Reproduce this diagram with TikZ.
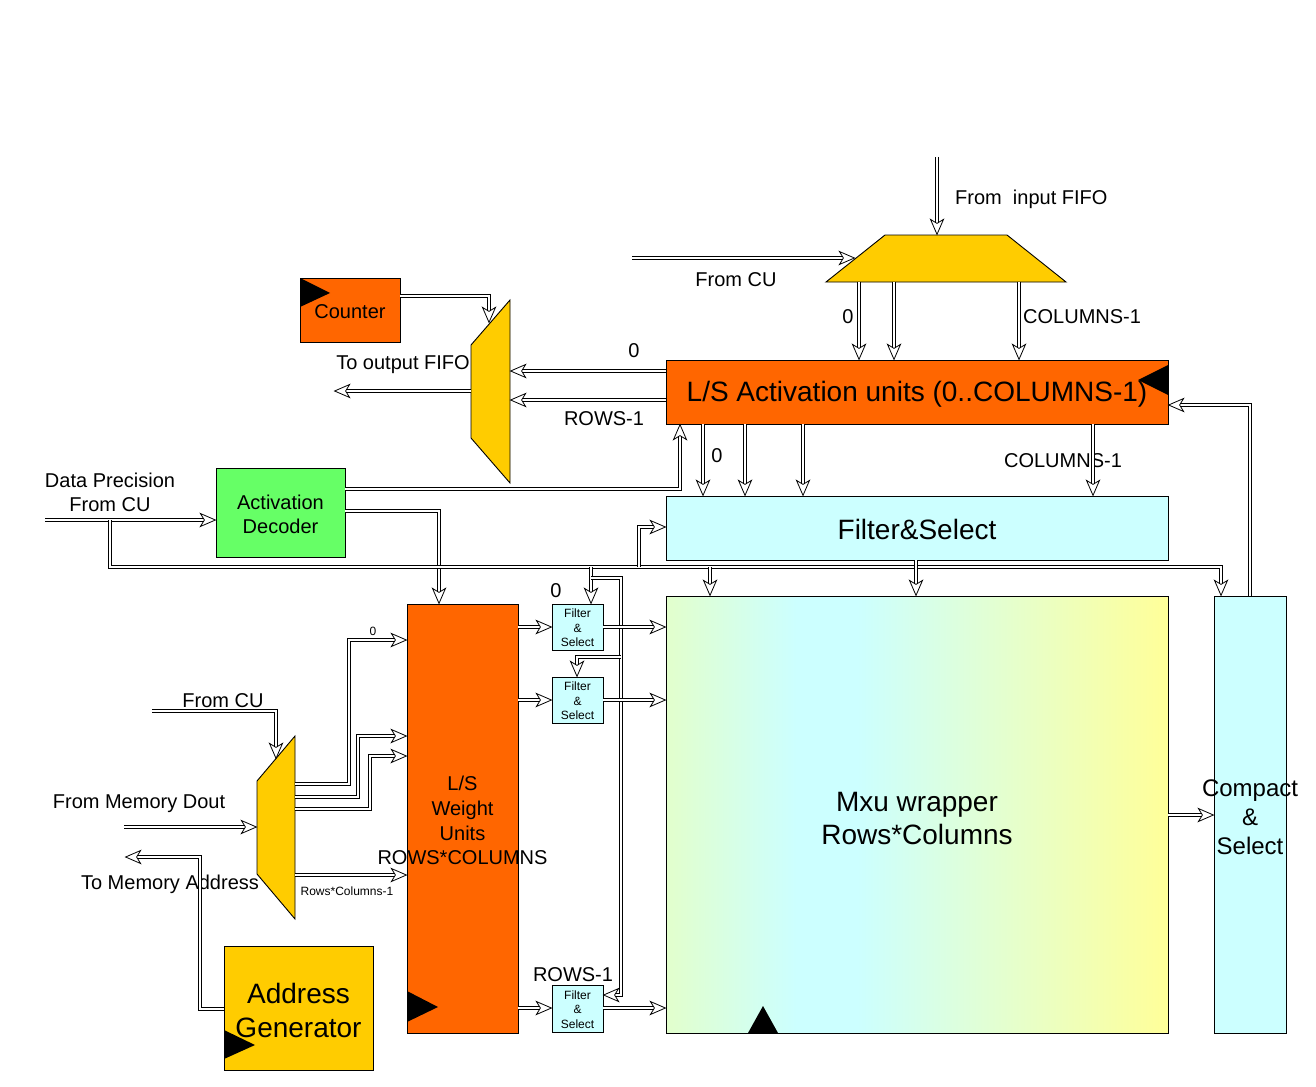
\documentclass[tikz,border=0pt]{standalone}
\usepackage{fontspec}
\setmainfont{Liberation Sans}
\usetikzlibrary{arrows.meta,decorations.markings}

\definecolor{orng}{HTML}{FF6600}
\definecolor{yel}{HTML}{FFCC00}
\definecolor{grn}{HTML}{66FF66}
\definecolor{cyn}{HTML}{CCFFFF}
\definecolor{mxuL}{HTML}{E2FFCC}
\definecolor{mxuR}{HTML}{FFFF99}
\pgfdeclarehorizontalshading{mxushade}{100bp}{color(0bp)=(mxuL); color(25bp)=(mxuL); color(38bp)=(cyn); color(44bp)=(cyn); color(75bp)=(mxuR); color(100bp)=(mxuR)}

\newcommand\myarrowhead{\filldraw[fill=white, draw=black, line width=0.8pt, line join=miter] (-0.6pt,0pt) -- (-15.6pt,6.5pt) -- (-11.6pt,0pt) -- (-15.6pt,-6.5pt) -- cycle;}
\newcommand\tup[1]{\rule{0pt}{#1}}

\tikzset{
  box/.style={draw=black, line width=0.9pt, inner sep=0pt, outer sep=0pt, anchor=north west, align=center},
  warr/.style={preaction={draw, double=white, double distance=2.2pt, line width=0.8pt, shorten >=9pt},
               postaction={decorate, decoration={markings, mark=at position 1 with {\myarrowhead}}}},
  lbl/.style={font=\fontsize{20}{24}\selectfont, inner sep=0pt, align=center},
  slbl/.style={lbl, text height=14.4pt, text depth=0pt},
  big/.style={font=\fontsize{28}{33}\selectfont},
  tiny/.style={font=\fontsize{12}{14.5}\selectfont, inner sep=0pt, align=center},
  clk/.style={fill=black},
  muxshape/.style={fill=yel, draw=black, line width=0.9pt},
}

\begin{document}
\begin{tikzpicture}[x=1pt,y=-1pt]
\fill[white] (0,0) rectangle (1316,1086);
\useasboundingbox (0,0) rectangle (1316,1086);

% ---------- boxes
\node[box, fill=orng, minimum width=100pt, minimum height=64pt, lbl] (cnt) at (300,278) {\tup{17.6pt}Counter};
\node[box, fill=orng, minimum width=502pt, minimum height=64pt, big] (act) at (666,360) {\tup{25.4pt}L/S Activation units (0..COLUMNS-1)};
\node[box, fill=cyn, minimum width=502pt, minimum height=64pt, big] (fs) at (666,496) {\tup{23.4pt}Filter\&Select};
\node[box, shading=mxushade, minimum width=502pt, minimum height=437pt, big] (mxu) at (666,596) {\tup{26.4pt}Mxu wrapper\\Rows*Columns};
\node[box, fill=cyn, minimum width=72pt, minimum height=437pt, font=\fontsize{24}{29}\selectfont] (cs) at (1214,596) {\tup{21.5pt}\makebox[0pt]{Compact}\\\&\\Select};
\node[box, fill=grn, minimum width=129pt, minimum height=89pt, lbl] (dec) at (216,468) {\tup{17.6pt}Activation\\Decoder};
\node[box, fill=orng, minimum width=111pt, minimum height=429pt, lbl, font=\fontsize{20}{24.7}\selectfont] (lsw) at (407,604) {\tup{18.6pt}L/S\\Weight\\Units\\\makebox[0pt]{ROWS*COLUMNS}};
\node[box, fill=cyn, minimum width=51pt, minimum height=46pt, tiny] (f0) at (552,604) {\tup{10.8pt}Filter\\\&\\Select};
\node[box, fill=cyn, minimum width=51pt, minimum height=46pt, tiny] (f1) at (552,677) {\tup{10.8pt}Filter\\\&\\Select};
\node[box, fill=cyn, minimum width=51pt, minimum height=47pt, tiny] (f2) at (552,985) {\tup{10.8pt}Filter\\\&\\Select};
\node[box, fill=yel, minimum width=149pt, minimum height=124pt, big, font=\fontsize{28}{34}\selectfont] (ag) at (224,946) {\tup{24.4pt}Address\\Generator};

% ---------- multiplexers
\coordinate (m0a) at (885,235); \coordinate (m0b) at (1007,235); \coordinate (m0c) at (1066,282); \coordinate (m0d) at (826,282);
\coordinate (m1a) at (510,300); \coordinate (m1b) at (510,483); \coordinate (m1c) at (471,438); \coordinate (m1d) at (471,345);
\coordinate (m2a) at (295,736); \coordinate (m2b) at (295,919); \coordinate (m2c) at (257,874); \coordinate (m2d) at (257,781);
\path[muxshape] (m0a) -- (m0b) -- (m0c) -- (m0d) -- cycle;
\path[muxshape] (m1a) -- (m1b) -- (m1c) -- (m1d) -- cycle;
\path[muxshape] (m2a) -- (m2b) -- (m2c) -- (m2d) -- cycle;

% ---------- clock triangles
\fill[clk] (cnt.north west) -- (300,307) -- (330,293) -- cycle;
\fill[clk] (1168,365) -- (1168,395) -- (1138,380) -- cycle;
\fill[clk] (407,991) -- (407,1022) -- (438,1007) -- cycle;
\fill[clk] (224,1030) -- (224,1059) -- (255,1045) -- cycle;
\fill[clk] (748,1033) -- (778,1033) -- (763,1006) -- cycle;

% ---------- labels
\node[slbl, anchor=west] (l1) at (955,197) {From\ \ input FIFO};
\node[slbl] (l2) at (736,279) {From CU};
\node[slbl] (l3) at (848,316) {0};
\node[slbl, anchor=west] (l4) at (1023,316) {COLUMNS-1};
\node[slbl] (l5) at (634,350) {0};
\node[slbl] (l6) at (604,418) {ROWS-1};
\node[slbl] (l7) at (403,362) {To output FIFO};
\node[lbl] (l8) at (110,492) {Data Precision\\From CU};
\node[slbl] (l9) at (717,455) {0};
\node[slbl] (l10) at (1063,460) {COLUMNS-1};
\node[slbl] (l11) at (556,590) {0};
\node[slbl] (l12) at (573,974) {ROWS-1};
\node[slbl] (l13) at (223,700) {From CU};
\node[slbl] (l14) at (139,801) {From Memory Dout};
\node[slbl] (l15) at (170,882) {To Memory Address};
\node[tiny] (l16) at (373,631) {0};
\node[tiny] (l17) at (347,891) {Rows*Columns-1};

% ---------- connectors
\path[warr] (937,157) coordinate (fifo) -- (fifo |- m0a);
\path[warr] (632,258) coordinate (cuA) -- (855,258);
\foreach \x in {859,894,1019} \path[warr] (\x,282) -- (act.north -| \x,0);
\path[warr] (cnt.east |- 0,296) -| (489,323);
\path[warr] (act.west |- 0,371) -- (m1a |- 0,371);
\path[warr] (act.west |- 0,400) -- (m1a |- 0,400);
\path[warr] (m1d |- 0,391) -- (334,391) coordinate (outfifo);
\path[warr] (45,520) coordinate (dp) -- (dec.west |- 0,520);
\path[warr] (dec.east |- 0,489) -| (act.south -| 680,0);
\path[warr] (dec.east |- 0,511) -| (lsw.north -| 439,0);
\foreach \x in {703,745,803,1093} \path[warr] (act.south -| \x,0) -- (fs.north -| \x,0);
% bus
\path[warr] (110,520) |- (1221,567) -- (cs.north -| 1221,0);
\path[warr] (591,567) -- (f0.north -| 591,0);
\path[warr] (710,567) -- (mxu.north -| 710,0);
\path[warr] (639,567) |- (fs.west |- 0,527);
\path[warr] (fs.south -| 916,0) -- (mxu.north -| 916,0);
\path[warr] (591,578) -- (621,578) -- (621,995) -- (f2.east |- 0,995);
\path[warr] (621,657) -| (f1.north -| 577,0);
% weight -> filters -> mxu
\path[warr] (lsw.east |- f0.west) -- (f0.west);
\path[warr] (lsw.east |- f1.west) -- (f1.west);
\path[warr] (lsw.east |- 0,1008) -- (f2.west |- 0,1008);
\path[warr] (f0.east) -- (mxu.west |- f0.east);
\path[warr] (f1.east) -- (mxu.west |- f1.east);
\path[warr] (f2.east |- 0,1008) -- (mxu.west |- 0,1008);
\path[warr] (mxu.east |- 0,815) -- (cs.west |- 0,815);
\path[warr] (cs.north -| 1250,0) |- (act.east |- 0,405);
% left bottom
\path[warr] (152,711) coordinate (cuB) -| (276,759);
\path[warr] (124,827) coordinate (mem) -- (m2d |- 0,827);
\path[warr] (ag.west |- 0,1009) -| (200,857) -- (125,857) coordinate (addr);
\path[warr] (m2a |- 0,784) -| (349,640) -- (lsw.west |- 0,640);
\path[warr] (m2a |- 0,797) -| (358,736) -- (lsw.west |- 0,736);
\path[warr] (m2a |- 0,809) -| (370,756) -- (lsw.west |- 0,756);
\path[warr] (m2a |- 0,875) -- (lsw.west |- 0,875);
\end{tikzpicture}
\end{document}
